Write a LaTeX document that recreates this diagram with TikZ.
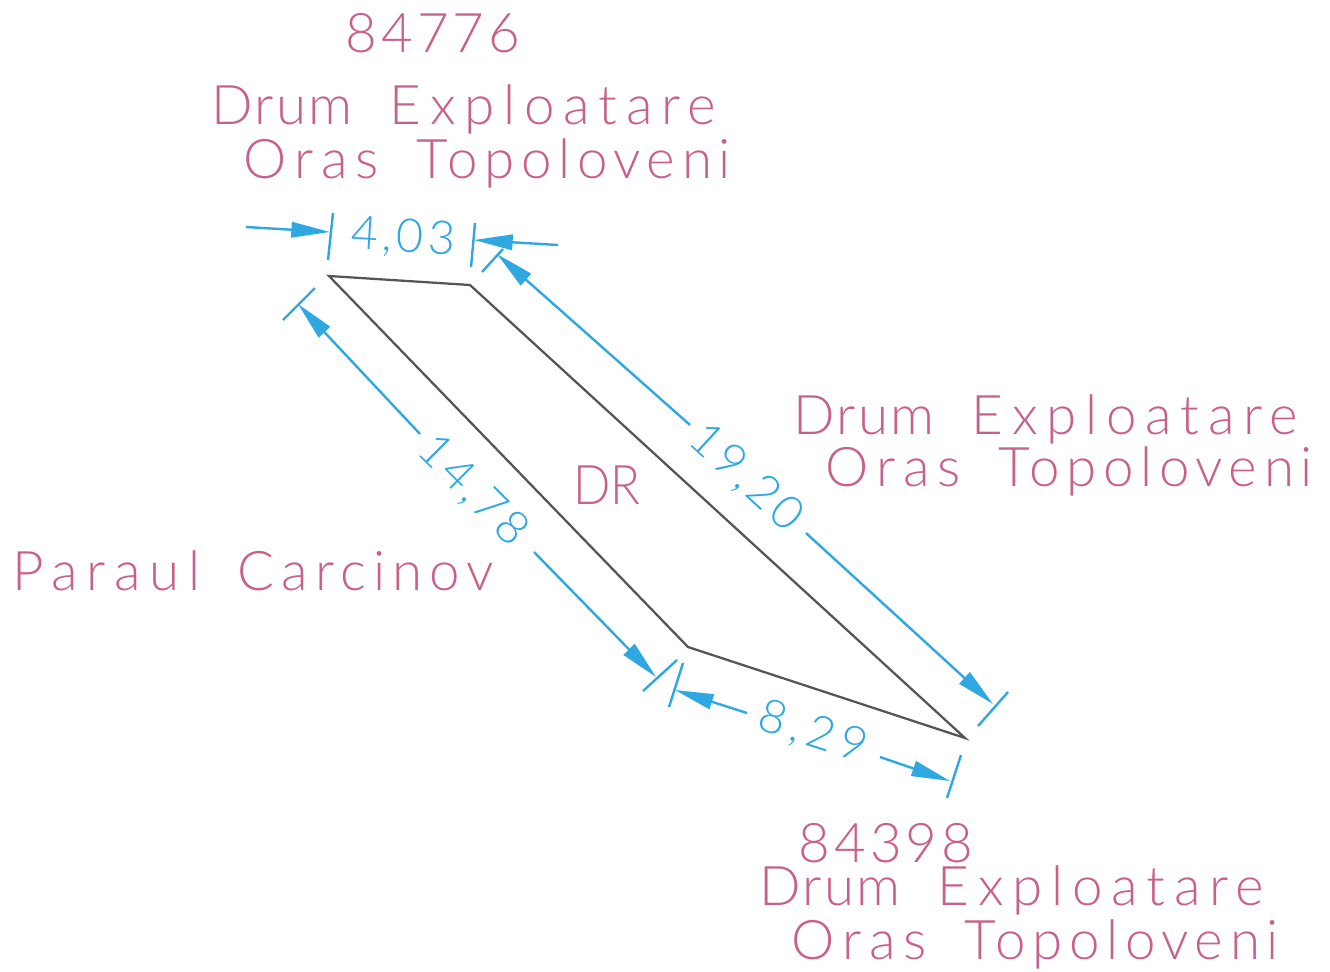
\documentclass[tikz,border=0pt]{standalone}
\usepackage{fontspec}
\setmainfont{Lato Light}[LetterSpace=9]
\usetikzlibrary{arrows.meta}
\definecolor{pinktxt}{HTML}{C8608C}
\definecolor{dimblue}{HTML}{2FA8E2}
\definecolor{plotline}{HTML}{555555}
\newcommand\lsp[2]{{\addfontfeature{LetterSpace=#1}#2}}
\newcommand\wgap{\hspace*{28pt}}
\newcommand\drumtxt{\lsp{4}{Drum}\wgap\lsp{16}{Exploatare}}
\newcommand\orastxt{\lsp{15}{Oras}\wgap\lsp{12}{Topoloveni}}
\tikzset{
 x=0.75pt,y=-0.75pt,
 label/.style={text=pinktxt,font=\fontsize{41}{41}\selectfont,anchor=base,inner sep=0pt,outer sep=0pt},
 dimtext/.style={text=dimblue,font=\fontsize{35}{35}\selectfont,anchor=center,inner sep=0pt,outer sep=0pt},
 dimline/.style={draw=dimblue,line width=1.8pt,-{Triangle[length=29pt,width=11.5pt,fill=dimblue]}},
 tick/.style={draw=dimblue,line width=1.8pt},
 parcel/.style={draw=plotline,line width=1.7pt,line join=miter},
}
\begin{document}
\begin{tikzpicture}
\useasboundingbox (0,0) rectangle (1330,971);
% texts
\node[label] (t1) at (433,52) {\lsp{7.5}{84776}};
\node[label] (t2) at (464,124) {\drumtxt};
\node[label] (t3) at (487,178) {\orastxt};
\node[label] (t4) at (1046,434) {\drumtxt};
\node[label] (t5) at (1069,486) {\orastxt};
\node[label] (t6) at (886,862) {\lsp{7.5}{84398}};
\node[label] (t7) at (1012,905) {\drumtxt};
\node[label] (t8) at (1035,959) {\orastxt};
\node[label] (t9) at (253,590) {\lsp{16}{Paraul}\wgap\lsp{13}{Carcinov}};
\node[label,xscale=.9] (t10) at (607,504) {\lsp{0}{DR}};
% parcel
\coordinate (A) at (329,276);
\coordinate (B) at (470,285);
\coordinate (C) at (965,738);
\coordinate (D) at (688,647);
\draw[parcel] (A) -- (B) -- (C) -- (D) -- cycle;
% dim 4,03
\node[dimtext,rotate=-3.5] (d1) at (403,238) {4,03};
\coordinate (a1) at (246,227); \coordinate (a2) at (330,232);
\coordinate (a3) at (558,245); \coordinate (a4) at (474,240);
\coordinate (k1) at (333,213); \coordinate (k2) at (328,260);
\coordinate (k3) at (475,223); \coordinate (k4) at (471,267);
\draw[dimline] (a1) -- (a2);
\draw[dimline] (a3) -- (a4);
\draw[tick] (k1) -- (k2);
\draw[tick] (k3) -- (k4);
% dim 19,20
\node[dimtext,rotate=-42.5] (d2) at (746,478) {19,20};
\coordinate (b1) at (690,425); \coordinate (b2) at (497,254);
\coordinate (b3) at (806,533); \coordinate (b4) at (993,704);
\coordinate (l1) at (503,249); \coordinate (l2) at (482,272);
\coordinate (l3) at (1008,692); \coordinate (l4) at (978,726);
\draw[dimline] (b1) -- (b2);
\draw[dimline] (b3) -- (b4);
\draw[tick] (l1) -- (l2);
\draw[tick] (l3) -- (l4);
% dim 14,78
\node[dimtext,rotate=-45] (d3) at (473,491) {14,78};
\coordinate (c1) at (420,434); \coordinate (c2) at (298,304);
\coordinate (c3) at (534,552); \coordinate (c4) at (656,677);
\coordinate (m1) at (315,288); \coordinate (m2) at (283,320);
\coordinate (m3) at (677,660); \coordinate (m4) at (643,691);
\draw[dimline] (c1) -- (c2);
\draw[dimline] (c3) -- (c4);
\draw[tick] (m1) -- (m2);
\draw[tick] (m3) -- (m4);
% dim 8,29
\node[dimtext,rotate=-18] (d4) at (813,733) {\lsp{14}{8,29}};
\coordinate (e1) at (747,713); \coordinate (e2) at (675,690);
\coordinate (e3) at (880,757); \coordinate (e4) at (950,781);
\coordinate (n1) at (683,663); \coordinate (n2) at (669,707);
\coordinate (n3) at (961,755); \coordinate (n4) at (947,798);
\draw[dimline] (e1) -- (e2);
\draw[dimline] (e3) -- (e4);
\draw[tick] (n1) -- (n2);
\draw[tick] (n3) -- (n4);
\end{tikzpicture}
\end{document}
